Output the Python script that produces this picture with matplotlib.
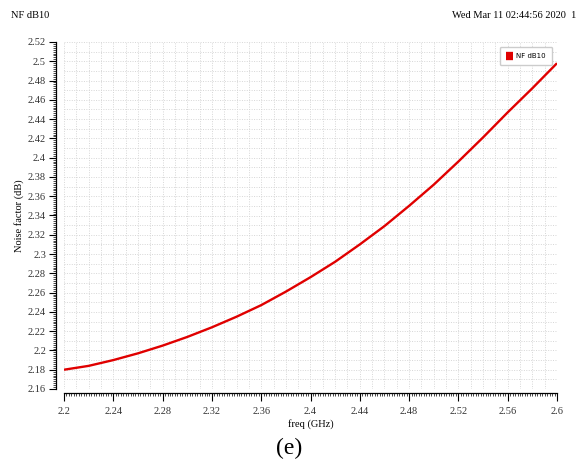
import numpy as np
import matplotlib.pyplot as plt
from matplotlib.ticker import MultipleLocator

# Data
freq_ghz = [2.20, 2.22, 2.24, 2.26, 2.28, 2.30, 2.32, 2.34, 2.36, 2.38, 2.40,
            2.42, 2.44, 2.46, 2.48, 2.50, 2.52, 2.54, 2.56, 2.58, 2.60]
nf_db = [2.180, 2.184, 2.190, 2.197, 2.205, 2.214, 2.224, 2.235, 2.247, 2.261, 2.276,
         2.292, 2.310, 2.329, 2.350, 2.372, 2.396, 2.421, 2.447, 2.472, 2.498]

plt.rcParams['font.family'] = ['Liberation Serif', 'DejaVu Serif']

fig = plt.figure(figsize=(5.79, 4.69), dpi=100)
ax = fig.add_axes([64 / 579, 1 - 389 / 469, 493 / 579, 347 / 469])

# dotted grid every 0.01
for gx in np.arange(2.20, 2.6001, 0.01):
    ax.axvline(gx, color='#d6d6d6', linestyle=(0, (1, 1.5)), linewidth=0.7, zorder=0)
for gy in np.arange(2.16, 2.5201, 0.01):
    ax.axhline(gy, color='#d6d6d6', linestyle=(0, (1, 1.5)), linewidth=0.7, zorder=0)

ax.plot(freq_ghz, nf_db, color='#e00000', linewidth=1.7, label='NF dB10', zorder=3,
        solid_joinstyle='round', solid_capstyle='butt')

ax.set_xlim(2.2, 2.6)
ax.set_ylim(2.16, 2.52)

ax.spines['top'].set_visible(False)
ax.spines['right'].set_visible(False)
ax.spines['left'].set_position(('outward', 6))
ax.spines['bottom'].set_position(('outward', 3))
ax.spines['left'].set_linewidth(0.9)
ax.spines['bottom'].set_linewidth(0.9)

ax.xaxis.set_major_locator(MultipleLocator(0.04))
ax.xaxis.set_minor_locator(MultipleLocator(0.002))
ax.yaxis.set_major_locator(MultipleLocator(0.02))
ax.yaxis.set_minor_locator(MultipleLocator(0.002))
ax.xaxis.set_major_formatter(lambda v, p: f'{v:.2f}'.rstrip('0').rstrip('.'))
ax.yaxis.set_major_formatter(lambda v, p: f'{v:.2f}'.rstrip('0').rstrip('.'))
ax.tick_params(which='major', length=5, width=0.8, labelsize=7.5, labelcolor='#333333', pad=2)
ax.tick_params(axis='x', which='major', length=6, pad=4)
ax.tick_params(which='minor', length=2.5, width=0.5)

ax.set_xlabel('freq (GHz)', fontsize=7.5, labelpad=2)
ax.set_ylabel('Noise factor (dB)', fontsize=7.5, labelpad=3)

leg = ax.legend(loc='upper right', prop={'family': 'DejaVu Sans', 'size': 5},
                handlelength=1.1, handletextpad=0.4, fancybox=True, framealpha=1,
                edgecolor='#cccccc', borderpad=0.9, borderaxespad=0.7)
for h in leg.legend_handles:
    h.set_linewidth(6)

fig.text(11 / 579, 1 - 15 / 469, 'NF dB10', fontsize=7.5, va='center', ha='left')
fig.text(576 / 579, 1 - 15 / 469, 'Wed Mar 11 02:44:56 2020  1', fontsize=7.5,
         va='center', ha='right')
fig.text(0.5, 1 - 448 / 469, '(e)', fontsize=17, ha='center', va='center')

fig.savefig('out.png', dpi=100)
